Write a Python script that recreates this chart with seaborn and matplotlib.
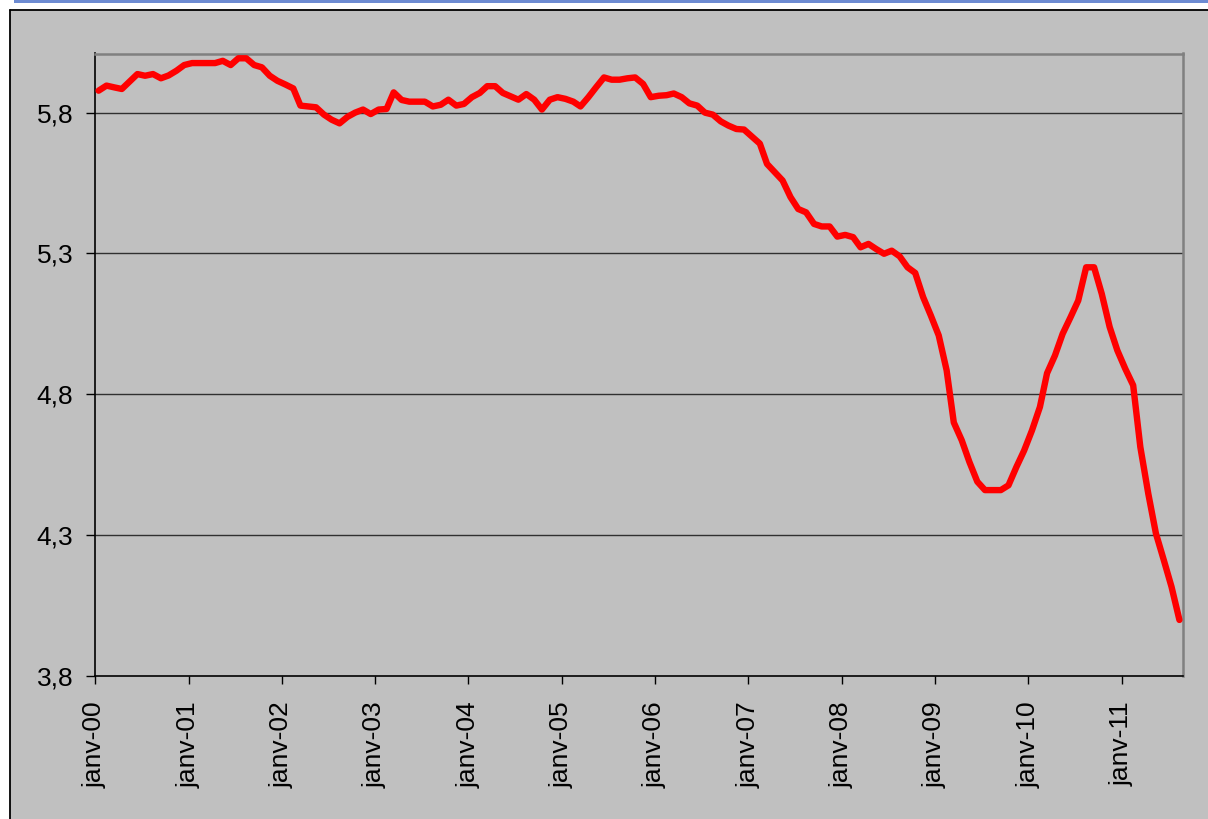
import pandas as pd
import matplotlib.pyplot as plt
import matplotlib.patches as mpatches
import seaborn as sns

# monthly values, janv-2000 .. aout-2011
values = [
    5.878, 5.896, 5.890, 5.884, 5.910, 5.937, 5.931, 5.937, 5.922, 5.932,  # 2000
    5.949, 5.969,
    5.976, 5.976, 5.976, 5.976, 5.984, 5.969, 5.993, 5.993, 5.969, 5.961,  # 2001
    5.931, 5.913,
    5.900, 5.886, 5.825, 5.822, 5.819, 5.793, 5.775, 5.762, 5.785, 5.800,  # 2002
    5.811, 5.795,
    5.811, 5.813, 5.872, 5.845, 5.839, 5.839, 5.839, 5.822, 5.828, 5.846,  # 2003
    5.825, 5.831,
    5.855, 5.870, 5.894, 5.894, 5.870, 5.858, 5.846, 5.866, 5.846, 5.811,  # 2004
    5.846, 5.855,
    5.849, 5.839, 5.822, 5.855, 5.890, 5.925, 5.917, 5.917, 5.922, 5.925,  # 2005
    5.902, 5.855,
    5.860, 5.862, 5.868, 5.855, 5.833, 5.825, 5.800, 5.793, 5.769, 5.754,  # 2006
    5.742, 5.740,
    5.715, 5.690, 5.618, 5.588, 5.559, 5.500, 5.458, 5.446, 5.405, 5.396,  # 2007
    5.396, 5.360,
    5.366, 5.358, 5.322, 5.334, 5.316, 5.299, 5.310, 5.290, 5.251, 5.231,  # 2008
    5.145, 5.080,
    5.009, 4.885, 4.700, 4.637, 4.560, 4.490, 4.460, 4.460, 4.460, 4.477,  # 2009
    4.542, 4.600,
    4.672, 4.755, 4.875, 4.938, 5.015, 5.074, 5.133, 5.251, 5.251, 5.157,  # 2010
    5.039, 4.956,
    4.891, 4.832, 4.613, 4.448, 4.306, 4.211, 4.117, 3.999,                # 2011
]
dates = pd.date_range("2000-01-01", periods=len(values), freq="MS") + pd.Timedelta(days=14)
tick_dates = pd.date_range("2000-01-01", "2011-01-01", freq="YS")
tick_labels = ["janv-%02d" % (d.year % 100) for d in tick_dates]
y_ticks = [3.8, 4.3, 4.8, 5.3, 5.8]
y_labels = ["3,8", "4,3", "4,8", "5,3", "5,8"]

df = pd.DataFrame({"date": dates, "val": values})

sns.set_style("white")
plt.rcParams["font.family"] = ["Liberation Sans", "DejaVu Sans"]

bg = "#C0C0C0"
fig = plt.figure(figsize=(12.08, 8.19), dpi=100, facecolor=bg)
W, H = 1208, 819
ax = fig.add_axes([95 / W, (H - 676) / H, (1183 - 95) / W, (676 - 53.5) / H])
ax.set_facecolor(bg)

# white top/left margin, blue band, black frame line
fig.add_artist(mpatches.Rectangle((0, 1 - 10 / H), 1, 10 / H, transform=fig.transFigure,
                                  facecolor="white", edgecolor="none", zorder=-5))
fig.add_artist(mpatches.Rectangle((0, 0), 10 / W, 1, transform=fig.transFigure,
                                  facecolor="white", edgecolor="none", zorder=-5))
fig.add_artist(mpatches.Rectangle((14 / W, 1 - 3 / H), 1, 3 / H, transform=fig.transFigure,
                                  facecolor="#6D8BD2", edgecolor="none", zorder=-4))
fig.add_artist(plt.Line2D([9.5 / W, 9.5 / W], [0, 1 - 9.5 / H], transform=fig.transFigure,
                          color="black", lw=1.3))
fig.add_artist(plt.Line2D([9.5 / W, 1], [1 - 9.5 / H, 1 - 9.5 / H], transform=fig.transFigure,
                          color="black", lw=1.3))

for yv in y_ticks[1:]:
    ax.axhline(yv, color="#303030", lw=1.0, zorder=1)

sns.lineplot(data=df, x="date", y="val", ax=ax, color="#FF0000", lw=4.6,
             solid_capstyle="round", solid_joinstyle="round", zorder=3)

ax.set_xlim(pd.Timestamp("2000-01-01"), pd.Timestamp("2011-08-29"))
ax.set_ylim(3.8, 6.01)
ax.set_xticks(tick_dates)
ax.set_xticklabels(tick_labels, rotation=90, fontsize=19, color="black")
ax.set_yticks(y_ticks)
ax.set_yticklabels(y_labels, fontsize=19, color="black")
ax.set_xlabel("")
ax.set_ylabel("")
ax.tick_params(axis="x", direction="out", length=6, width=1, color="black", pad=12)
ax.tick_params(axis="y", direction="out", length=6.5, width=1, color="black", pad=9)
ax.xaxis.set_ticks_position("bottom")
ax.yaxis.set_ticks_position("left")

for side in ["left", "bottom"]:
    ax.spines[side].set_color("black")
    ax.spines[side].set_linewidth(1.2)
for side in ["top", "right"]:
    ax.spines[side].set_visible(True)
    ax.spines[side].set_color("#808080")
    ax.spines[side].set_linewidth(1.8)

fig.savefig("out.png", dpi=100, facecolor=bg)
